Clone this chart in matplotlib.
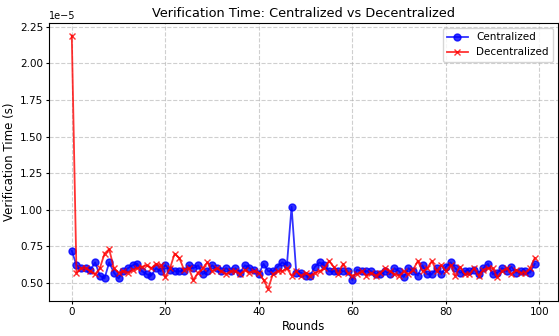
import matplotlib
matplotlib.use("Agg")
import matplotlib.pyplot as plt
import numpy as np

rounds = list(range(100))
centralized = [
    0.72, 0.62, 0.60, 0.60, 0.59, 0.64, 0.55, 0.53, 0.64, 0.57,
    0.53, 0.58, 0.60, 0.62, 0.63, 0.58, 0.56, 0.55, 0.60, 0.58,
    0.62, 0.59, 0.58, 0.58, 0.58, 0.62, 0.60, 0.62, 0.56, 0.58,
    0.62, 0.60, 0.58, 0.60, 0.58, 0.60, 0.57, 0.62, 0.60, 0.59,
    0.56, 0.63, 0.58, 0.58, 0.61, 0.64, 0.62, 1.02, 0.57, 0.57,
    0.55, 0.55, 0.61, 0.64, 0.62, 0.58, 0.58, 0.58, 0.58, 0.58,
    0.52, 0.59, 0.58, 0.58, 0.58, 0.56, 0.56, 0.58, 0.56, 0.60,
    0.58, 0.54, 0.60, 0.58, 0.55, 0.62, 0.56, 0.56, 0.60, 0.56,
    0.61, 0.64, 0.60, 0.57, 0.58, 0.58, 0.59, 0.56, 0.60, 0.63,
    0.56, 0.57, 0.60, 0.58, 0.61, 0.57, 0.58, 0.58, 0.57, 0.63,
]
decentralized = [
    2.19, 0.57, 0.60, 0.60, 0.58, 0.56, 0.60, 0.70, 0.73, 0.60,
    0.57, 0.58, 0.57, 0.59, 0.60, 0.61, 0.62, 0.60, 0.63, 0.62,
    0.54, 0.60, 0.70, 0.67, 0.59, 0.60, 0.52, 0.57, 0.60, 0.64,
    0.58, 0.60, 0.58, 0.56, 0.58, 0.58, 0.56, 0.59, 0.57, 0.58,
    0.57, 0.52, 0.46, 0.56, 0.58, 0.58, 0.60, 0.55, 0.58, 0.55,
    0.57, 0.55, 0.57, 0.58, 0.60, 0.65, 0.61, 0.56, 0.63, 0.57,
    0.55, 0.56, 0.58, 0.55, 0.57, 0.55, 0.57, 0.60, 0.58, 0.56,
    0.55, 0.58, 0.56, 0.59, 0.65, 0.58, 0.60, 0.65, 0.58, 0.62,
    0.58, 0.62, 0.55, 0.61, 0.56, 0.56, 0.60, 0.55, 0.59, 0.60,
    0.60, 0.54, 0.58, 0.60, 0.56, 0.59, 0.57, 0.57, 0.60, 0.67,
]
scale = 1e-5
cent = np.array(centralized) * scale
dec = np.array(decentralized) * scale

fig = plt.figure(figsize=(5.59, 3.36), dpi=100)
ax = fig.add_axes([0.087, 0.103, 0.911, 0.829])
ax.plot(rounds, cent, color="blue", marker="o", markersize=5, linewidth=1.3,
        label="Centralized", alpha=0.8)
ax.plot(rounds, dec, color="red", marker="x", markersize=5, linewidth=1.3,
        label="Decentralized", alpha=0.8)
ax.set_title("Verification Time: Centralized vs Decentralized", fontsize=9.3, pad=4)
ax.set_xlabel("Rounds", fontsize=8.5, labelpad=2)
ax.set_ylabel("Verification Time (s)", fontsize=8.5, labelpad=3)
ax.tick_params(labelsize=7.5, length=2, pad=2)
ax.yaxis.get_offset_text().set_fontsize(7)
ax.grid(True, linestyle="--", alpha=0.6)
ax.legend(fontsize=7.5, loc="upper right")
fig.savefig("out.png", dpi=100)
